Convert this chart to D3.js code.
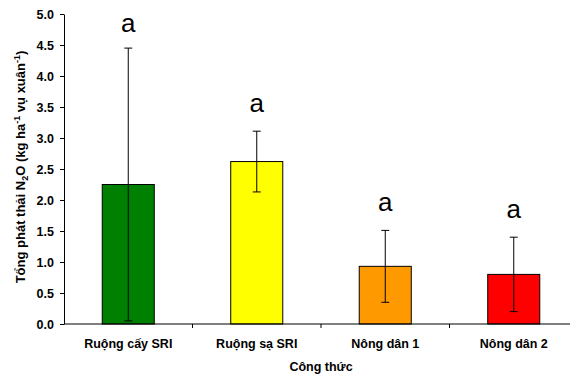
<!DOCTYPE html>
<html>
<head>
<meta charset="utf-8">
<script src="https://cdn.jsdelivr.net/npm/d3@7"></script>
<style>
  html, body { margin: 0; padding: 0; background: #fff; }
  svg { display: block; font-family: Arial, "Liberation Sans", sans-serif; }
</style>
</head>
<body>
<svg id="chart" width="570" height="379"></svg>
<script>
// Total N2O emission per treatment (kg ha-1 per spring crop)
const categories = ["Ruộng cấy SRI", "Ruộng sạ SRI", "Nông dân 1", "Nông dân 2"];
const means = [2.25, 2.62, 0.93, 0.80];
const errors = [2.20, 0.49, 0.58, 0.60];
const letters = ["a", "a", "a", "a"];
const colors = ["#008000", "#ffff00", "#ff9900", "#ff0000"];
const yTicks = [0, 0.5, 1, 1.5, 2, 2.5, 3, 3.5, 4, 4.5, 5];

const svg = d3.select("#chart");
const plotLeft = 64, plotTop = 14, plotBottom = 324, plotRight = 578;

const x = d3.scaleBand().domain(categories).range([plotLeft, plotRight]).padding(0);
const y = d3.scaleLinear().domain([0, 5]).range([plotBottom, plotTop]);
const barW = x.bandwidth() * 0.405;

// y axis
const yAxis = svg.append("g")
  .attr("transform", `translate(${plotLeft},0)`)
  .call(d3.axisLeft(y).tickValues(yTicks).tickFormat(d3.format(".1f")).tickSize(4).tickSizeOuter(0));
yAxis.select(".domain").attr("stroke", "#000");
yAxis.selectAll(".tick line").attr("stroke", "#000");
yAxis.selectAll(".tick text")
  .attr("x", -10)
  .style("font-size", "12.5px").style("font-weight", "bold").attr("fill", "#000");

// bars
svg.append("g").selectAll("rect")
  .data(categories)
  .join("rect")
  .attr("x", (d) => x(d) + x.bandwidth() / 2 - barW / 2)
  .attr("y", (d, i) => y(means[i]))
  .attr("width", barW)
  .attr("height", (d, i) => y(0) - y(means[i]))
  .attr("fill", (d, i) => colors[i])
  .attr("stroke", "#000")
  .attr("stroke-width", 1);

// error bars
const eb = svg.append("g").attr("stroke", "#000").attr("stroke-width", 1);
categories.forEach((c, i) => {
  const cx = x(c) + x.bandwidth() / 2;
  const hi = y(means[i] + errors[i]);
  const lo = y(Math.max(0, means[i] - errors[i]));
  eb.append("line").attr("x1", cx).attr("x2", cx).attr("y1", hi).attr("y2", lo);
  eb.append("line").attr("x1", cx - 4).attr("x2", cx + 4).attr("y1", hi).attr("y2", hi);
  eb.append("line").attr("x1", cx - 4).attr("x2", cx + 4).attr("y1", lo).attr("y2", lo);
});

// significance letters
svg.append("g").selectAll("text")
  .data(categories)
  .join("text")
  .attr("x", (d) => x(d) + x.bandwidth() / 2)
  .attr("y", (d, i) => Math.max(32, y(means[i] + errors[i]) - 19))
  .attr("text-anchor", "middle")
  .style("font-size", "26px")
  .attr("fill", "#000")
  .text((d, i) => letters[i]);

// x axis: baseline with ticks at category boundaries
const xa = svg.append("g");
xa.append("line").attr("x1", plotLeft).attr("x2", plotRight).attr("y1", plotBottom).attr("y2", plotBottom).attr("stroke", "#000");
xa.selectAll("line.tk")
  .data(categories)
  .join("line")
  .attr("class", "tk")
  .attr("x1", (d) => x(d) + x.step())
  .attr("x2", (d) => x(d) + x.step())
  .attr("y1", plotBottom).attr("y2", plotBottom + 4)
  .attr("stroke", "#000");
xa.selectAll("text")
  .data(categories)
  .join("text")
  .attr("x", (d) => x(d) + x.bandwidth() / 2)
  .attr("y", 348)
  .attr("text-anchor", "middle")
  .style("font-size", "12.5px").style("font-weight", "bold")
  .text((d) => d);

// axis titles
svg.append("text")
  .attr("x", 321).attr("y", 371)
  .attr("text-anchor", "middle")
  .style("font-size", "12.5px").style("font-weight", "bold")
  .text("Công thức");

const yt = svg.append("text")
  .attr("transform", "translate(25,167) rotate(-90)")
  .attr("text-anchor", "middle")
  .style("font-size", "13px").style("font-weight", "bold");
yt.append("tspan").text("Tổng phát thải N");
yt.append("tspan").attr("dy", 3).style("font-size", "9px").text("2");
yt.append("tspan").attr("dy", -3).text("O (kg ha");
yt.append("tspan").attr("dy", -5).style("font-size", "9px").text("-1");
yt.append("tspan").attr("dy", 5).text(" vụ xuân");
yt.append("tspan").attr("dy", -5).style("font-size", "9px").text("-1");
yt.append("tspan").attr("dy", 5).text(")");
</script>
</body>
</html>
